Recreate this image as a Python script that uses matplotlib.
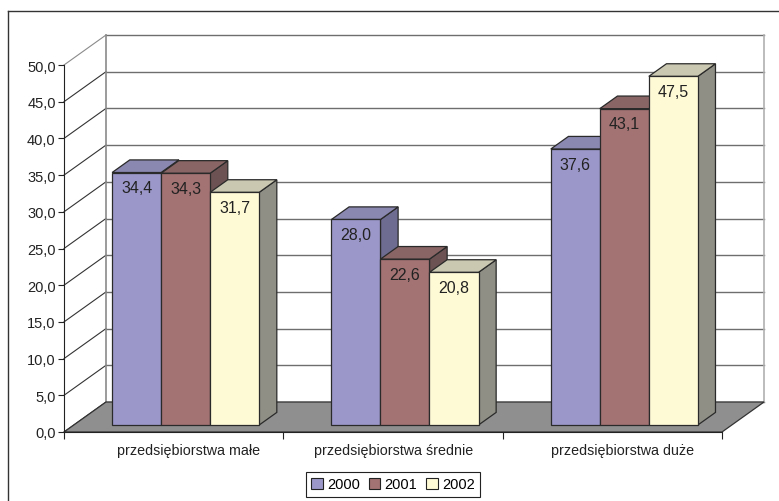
import numpy as np
import matplotlib
matplotlib.use("Agg")
import matplotlib.pyplot as plt
import matplotlib.transforms as mtransforms
from matplotlib.patches import Polygon, Rectangle, Patch
from matplotlib.lines import Line2D

plt.rcParams['font.family'] = ['Liberation Sans', 'DejaVu Sans']

categories = ['przedsiębiorstwa małe', 'przedsiębiorstwa średnie', 'przedsiębiorstwa duże']
series_names = ['2000', '2001', '2002']
v2000 = [34.4, 28.0, 37.6]
v2001 = [34.3, 22.6, 43.1]
v2002 = [31.7, 20.8, 47.5]
series = [v2000, v2001, v2002]
yticks = [0, 5, 10, 15, 20, 25, 30, 35, 40, 45, 50]

front_c = ['#9B97C9', '#A37272', '#FFFAD6']
top_c = ['#8A87B0', '#8A6565', '#CAC8B0']
side_c = ['#6E6C90', '#6C5252', '#8F8F86']

W, H = 779, 502
fig = plt.figure(figsize=(W / 100, H / 100), dpi=100)
fig.patch.set_facecolor('white')

ax = fig.add_axes([64 / W, (H - 433) / H, 658 / W, 367 / H])
ax.set_xlim(0, 3)
ax.set_ylim(0, 50)
ax.patch.set_visible(False)

# depth offsets (data units) for full depth
DX = 42 / 219.33
DY = 30 / 7.34
d0, d1 = 0.233, 0.653
bw = 0.2235
gc = 0.51

edge = '#2a2a2a'

# back wall gridlines and edges
for v in yticks:
    ax.plot([DX, 3 + DX], [v + DY, v + DY], color='#6e6e6e', lw=1.0, clip_on=False, zorder=1)
    ax.plot([0, DX], [v, v + DY], color='#333333' if v < 50 else '#8a8a8a', lw=0.8, clip_on=False, zorder=1)
ax.plot([DX, DX], [DY, 50 + DY], color='#8a8a8a', lw=1.2, clip_on=False, zorder=1)
ax.plot([3 + DX, 3 + DX], [DY, 50 + DY], color='#b0b0b0', lw=1.2, clip_on=False, zorder=1)

# floor
floor = Polygon([(0, 0), (3, 0), (3 + DX, DY), (DX, DY)], closed=True,
                facecolor='#8F8F8F', edgecolor='#333333', lw=0.9, clip_on=False, zorder=2)
ax.add_patch(floor)

# bars
z = 3
for ci in range(len(categories)):
    for si, vals in enumerate(series):
        v = vals[ci]
        x0 = ci + gc - 1.5 * bw + si * bw
        x1 = x0 + bw
        fx0, fx1 = x0 + d0 * DX, x1 + d0 * DX
        bx0, bx1 = x0 + d1 * DX, x1 + d1 * DX
        fy, by = d0 * DY, d1 * DY
        side = Polygon([(fx1, fy), (bx1, by), (bx1, v + by), (fx1, v + fy)], closed=True,
                       facecolor=side_c[si], edgecolor=edge, lw=0.9, clip_on=False, zorder=z)
        top = Polygon([(fx0, v + fy), (fx1, v + fy), (bx1, v + by), (bx0, v + by)], closed=True,
                      facecolor=top_c[si], edgecolor=edge, lw=0.9, clip_on=False, zorder=z)
        front = Rectangle((fx0, fy), bw, v, facecolor=front_c[si], edgecolor=edge, lw=0.9,
                          clip_on=False, zorder=z + 0.5)
        ax.add_patch(side)
        ax.add_patch(top)
        ax.add_patch(front)
        ax.annotate(f"{v:.1f}".replace('.', ','), xy=((fx0 + fx1) / 2, v + fy),
                    xytext=(0, -11), textcoords='offset points', ha='center', va='center',
                    fontsize=11.5, color='#222222', zorder=z + 1, annotation_clip=False)
        z += 1

# axes styling
for s in ['top', 'right']:
    ax.spines[s].set_visible(False)
ax.spines['left'].set_color('#222222')
ax.spines['bottom'].set_color('#222222')
ax.spines['left'].set_zorder(20)
ax.spines['bottom'].set_zorder(20)
ax.set_yticks(yticks)
ax.set_yticklabels([f"{v:.1f}".replace('.', ',') for v in yticks])
ax.tick_params(axis='y', direction='out', length=4, width=0.8, pad=2, labelsize=10.5, colors='#222222')
ax.set_xticks([0, 1, 2, 3])
ax.set_xticklabels([])
ax.tick_params(axis='x', which='major', direction='out', length=5, width=0.8, colors='#222222')
ax.set_xticks([0.5, 1.5, 2.5], minor=True)
ax.set_xticklabels(categories, minor=True)
ax.tick_params(axis='x', which='minor', length=0, pad=8, labelsize=10.3, colors='#222222')
# small horizontal nudges of category labels (pixels), as in the original layout
nudges = [14.5, 0.8, 10.7]
for lab, dxp in zip(ax.get_xticklabels(minor=True), nudges):
    lab.set_transform(lab.get_transform() + mtransforms.Affine2D().translate(dxp, 0))

# outer frame (top and left visible)
fig.add_artist(Line2D([8 / W, 1], [1 - 12 / H, 1 - 12 / H], transform=fig.transFigure, color='#333333', lw=1.0))
fig.add_artist(Line2D([8 / W, 8 / W], [0, 1 - 12 / H], transform=fig.transFigure, color='#333333', lw=1.0))

handles = [Patch(facecolor=front_c[i], edgecolor='#222222', lw=0.8) for i in range(3)]
leg = fig.legend(handles, series_names, loc='center', bbox_to_anchor=(393 / W, (H - 485.5) / H),
                 ncol=3, frameon=True, fancybox=False, edgecolor='#222222', framealpha=1,
                 handlelength=0.8, handleheight=0.8, handletextpad=0.3, columnspacing=0.6,
                 borderpad=0.35, fontsize=10.5)
leg.get_frame().set_linewidth(0.8)

fig.savefig('out.png', dpi=100)
